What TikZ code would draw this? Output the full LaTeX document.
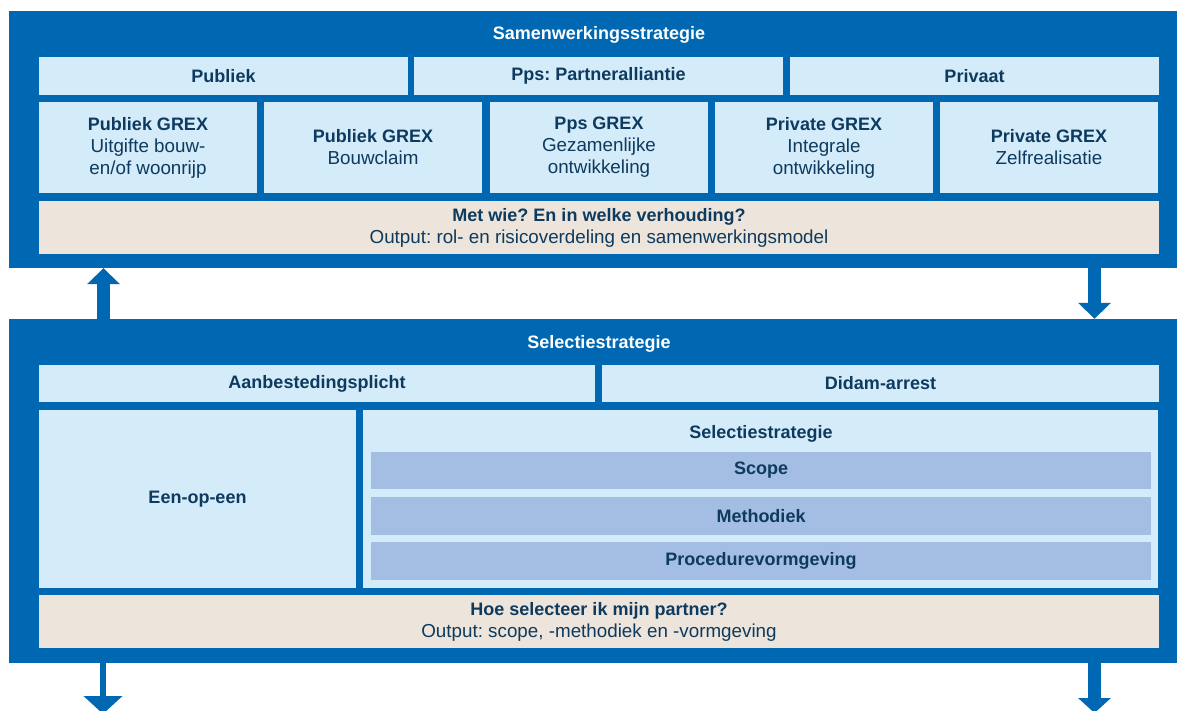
\documentclass[tikz,border=0pt]{standalone}
\usepackage{fontspec}
\setmainfont{Liberation Sans}
\usetikzlibrary{arrows.meta}
\frenchspacing

\definecolor{blauw}{HTML}{0068B3}
\definecolor{lichtblauw}{HTML}{D4EBFA}
\definecolor{beige}{HTML}{EDE5DB}
\definecolor{balk}{HTML}{A3BEE2}
\definecolor{donker}{HTML}{0D3A5E}

\newcommand{\kop}[1]{{\fontsize{18}{22}\selectfont\bfseries #1}}

\tikzset{
  kader/.style={fill=blauw, inner sep=0pt},
  titel/.style={text=white, font=\fontsize{18}{22}\selectfont\bfseries},
  vak/.style={fill=lichtblauw, inner sep=0pt, text=donker, align=center, font=\fontsize{18.8}{22}\selectfont},
  vet/.style={font=\fontsize{18}{22}\selectfont\bfseries},
  uitvoer/.style={vak, fill=beige, minimum width=1120pt, minimum height=53pt},
  balkvak/.style={vak, vet, fill=balk, minimum width=780pt},
  pijl/.style={draw=blauw, line width=13pt, -{Triangle[width=32pt,length=16pt,fill=blauw]}},
  pijldun/.style={draw=blauw, line width=6pt, -{Triangle[width=38pt,length=18pt,fill=blauw]}}
}

\begin{document}
\begin{tikzpicture}[x=1pt,y=-1pt]
\useasboundingbox (0,0) rectangle (1177,711);

% Samenwerkingsstrategie
\node[kader, minimum width=1168pt, minimum height=257pt] (boven) at (593,139.5) {};
\node[titel] (titelb) at (599,34.5) {Samenwerkingsstrategie};

\foreach \x/\naam/\tekst in {223.5/publiek/Publiek, 598.5/pps/Pps: Partneralliantie, 974.5/privaat/Privaat} {
\node[vak, vet, minimum width=369pt, minimum height=38pt] (\naam) at (\x,76) {\tekst};
}

\foreach \x/\naam/\tekst in {
148/grex1/{\kop{Publiek GREX}\\Uitgifte bouw-\\en/of woonrijp},
373/grex2/{\kop{Publiek GREX}\\Bouwclaim},
599/grex3/{\kop{Pps GREX}\\Gezamenlijke\\ontwikkeling},
824/grex4/{\kop{Private GREX}\\Integrale\\ontwikkeling},
1049/grex5/{\kop{Private GREX}\\Zelfrealisatie}} {
\node[vak, minimum width=218pt, minimum height=91pt] (\naam) at (\x,147.5) {\tekst};
}

\node[uitvoer] (uitvoerb) at (599,227.5) {\kop{Met wie? En in welke verhouding?}\\Output: rol- en risicoverdeling en samenwerkingsmodel};

% Selectiestrategie
\node[kader, minimum width=1168pt, minimum height=344pt] (onder) at (593,491) {};
\node[titel] (titelo) at (599,343.5) {Selectiestrategie};

\node[vak, vet, minimum width=556pt, minimum height=37pt] (aanbest) at (317,383.5) {Aanbestedingsplicht};
\node[vak, vet, minimum width=557pt, minimum height=37pt] (didam) at (880.5,383.5) {Didam-arrest};

\node[vak, vet, minimum width=317pt, minimum height=178pt] (eenop) at (197.5,499) {Een-op-een};
\node[vak, minimum width=795pt, minimum height=178pt] (selvak) at (760.5,499) {};
\node[vet, text=donker] (seltitel) at (761,433.5) {Selectiestrategie};

\node[balkvak, minimum height=37pt] (scope) at (761,470.5) {Scope};
\node[balkvak, minimum height=38pt] (methodiek) at (761,516) {Methodiek};
\node[balkvak, minimum height=38pt] (procedure) at (761,561) {Procedurevormgeving};

\node[uitvoer] (uitvoero) at (599,621.5) {\kop{Hoe selecteer ik mijn partner?}\\Output: scope, -methodiek en -vormgeving};

% pijlen
\coordinate (xl) at (103.5,0);
\coordinate (xr) at (1094.5,0);
\coordinate (eindl) at (103,714);
\coordinate (eindr) at (1094.5,713);

\draw[pijl] (onder.north -| xl) -- (boven.south -| xl);
\draw[pijl] (boven.south -| xr) -- (onder.north -| xr);
\draw[pijldun] (onder.south -| eindl) -- (eindl);
\draw[pijl, -{Triangle[width=32pt,length=15pt,fill=blauw]}] (onder.south -| eindr) -- (eindr);

\end{tikzpicture}
\end{document}
